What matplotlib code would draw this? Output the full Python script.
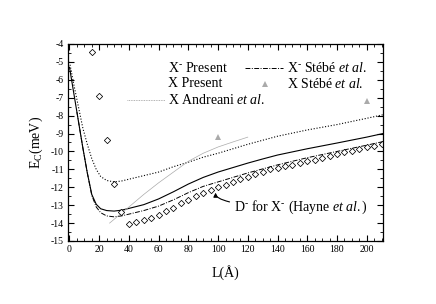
import matplotlib
matplotlib.use("Agg")
import matplotlib.pyplot as plt
from matplotlib.ticker import MultipleLocator, FuncFormatter

plt.rcParams['font.family'] = ['Liberation Serif', 'DejaVu Serif']
plt.rcParams['mathtext.fontset'] = 'custom'
plt.rcParams['mathtext.rm'] = 'Liberation Serif'
plt.rcParams['mathtext.it'] = 'Liberation Serif:italic'
plt.rcParams['mathtext.bf'] = 'Liberation Serif:bold'

# X- Present (solid)
L_xm = [0, 3, 6, 9, 12, 15, 18, 21, 25, 30, 35, 40, 50, 60, 70, 80, 90, 100, 110, 120, 130, 140, 160, 180, 200, 211]
E_xm = [-5.3, -6.8, -8.3, -9.8, -11.2, -12.4, -12.95, -13.2, -13.3, -13.33, -13.28, -13.18, -12.97, -12.65, -12.25, -11.82,
        -11.45, -11.15, -10.9, -10.65, -10.42, -10.2, -9.85, -9.53, -9.2, -9.0]

# X Present (dotted)
L_x = [0, 3, 6, 9, 12, 15, 18, 21, 25, 30, 35, 40, 50, 60, 70, 80, 90, 100, 120, 140, 160, 180, 200, 211]
E_x = [-5.0, -6.3, -7.5, -8.7, -9.6, -10.4, -11.0, -11.4, -11.62, -11.7, -11.65, -11.55, -11.35, -11.15, -10.85, -10.6,
       -10.32, -10.1, -9.6, -9.15, -8.8, -8.5, -8.15, -7.95]

# X- Stebe et al. (dash-dot)
L_st = [5, 9, 12, 15, 18, 21, 25, 30, 35, 40, 50, 60, 70, 80, 90, 100, 120, 140, 160, 180, 200, 211]
E_st = [-7.8, -9.8, -11.2, -12.45, -13.1, -13.42, -13.6, -13.65, -13.6, -13.5, -13.3, -13.05, -12.7, -12.3, -11.95,
        -11.7, -11.2, -10.75, -10.35, -10.0, -9.65, -9.45]

# X Andreani et al. (thin gray)
L_an = [27, 40, 50, 60, 70, 80, 90, 100, 110, 120]
E_an = [-14.0, -13.1, -12.4, -11.75, -11.15, -10.55, -10.1, -9.75, -9.47, -9.2]

# X Stebe et al. (triangles)
L_tri = [100, 200]
E_tri = [-9.2, -7.2]

# D- for X- (Hayne et al.) diamonds
L_d = list(range(15, 211, 5))
E_d = [-4.45, -6.9, -9.36, -11.84, -13.37, -14.07, -13.96, -13.85, -13.7, -13.55, -13.35, -13.15, -12.9, -12.7,
       -12.5, -12.3, -12.15, -12.0, -11.85, -11.7, -11.55, -11.4, -11.25, -11.12, -11.0, -10.9, -10.8, -10.75,
       -10.65, -10.55, -10.45, -10.35, -10.25, -10.15, -10.05, -9.95, -9.85, -9.77, -9.68, -9.6]

xticks = [0, 20, 40, 60, 80, 100, 120, 140, 160, 180, 200]
yticks = [-4, -5, -6, -7, -8, -9, -10, -11, -12, -13, -14, -15]

fig = plt.figure(figsize=(4.36, 3.04), dpi=100)
ax = fig.add_axes([68/436, 1-241/304, 315/436, 197/304])

ax.plot(L_xm, E_xm, color='black', lw=0.8)
ax.plot(L_x, E_x, color='black', lw=0.8, linestyle=(0, (1, 1.6)))
ax.plot(L_st, E_st, color='black', lw=0.7, linestyle=(0, (5, 1.5, 1, 1.5)))
ax.plot(L_an, E_an, color='#aaaaaa', lw=0.5)
ax.plot(L_tri, E_tri, linestyle='none', marker='^', color='#aaaaaa', markersize=5, markeredgewidth=0)
ax.plot(L_d, E_d, linestyle='none', marker='D', markersize=3.2, markerfacecolor='white',
        markeredgecolor='black', markeredgewidth=0.55)

ax.set_xlim(-1, 211)
ax.set_ylim(-15, -4)
ax.set_xticks(xticks)
ax.set_yticks(yticks)
ax.xaxis.set_minor_locator(MultipleLocator(5))
ax.yaxis.set_minor_locator(MultipleLocator(0.5))
ax.yaxis.set_major_formatter(FuncFormatter(lambda v, p: '%d' % round(v)))
ax.tick_params(which='both', direction='in', top=True, right=True, labelsize=7, pad=3)
ax.tick_params(which='major', length=4, width=0.8)
ax.tick_params(which='minor', length=2, width=0.6)
for s in ax.spines.values():
    s.set_linewidth(0.9)

ax.set_xlabel('L(Å)', fontsize=10, labelpad=8)
ax.set_ylabel(r'E$_\mathrm{C}$(meV)', fontsize=10, labelpad=4)

SUP = r'$^{\text{-}}$'

# Legend (manual)
fs = 10
T = ax.transAxes
ax.text(0.317, 0.876, 'X' + SUP + ' Present', transform=T, fontsize=fs, va='center', ha='left')
ax.text(0.317, 0.797, 'X Present', transform=T, fontsize=fs, va='center', ha='left')
ax.text(0.317, 0.716, r'X Andreani $\mathit{et\ al.}$', transform=T, fontsize=fs, va='center', ha='left')
ax.plot([0.187, 0.308], [0.716, 0.716], transform=T, color='#999999', lw=0.6, linestyle=(0, (1, 1)))
ax.text(0.695, 0.876, 'X' + SUP + r' Stébé $\mathit{et\ al.}$', transform=T, fontsize=fs, va='center', ha='left')
ax.plot([0.562, 0.683], [0.876, 0.876], transform=T, color='black', lw=0.7, linestyle=(0, (5, 1.5, 1, 1.5)))
ax.text(0.695, 0.797, r'X Stébé $\mathit{et\ al.}$', transform=T, fontsize=fs, va='center', ha='left')
ax.plot([0.625], [0.797], transform=T, marker='^', color='#aaaaaa', markersize=5, markeredgewidth=0)

ax.annotate('D' + SUP + ' for X' + SUP + r' (Hayne $\mathit{et\ al.}$)', xy=(98.3, -12.3), xytext=(110.5, -13.1),
            fontsize=fs, va='center', ha='left',
            arrowprops=dict(arrowstyle='-|>', color='black', lw=0.8, mutation_scale=6,
                            connectionstyle='angle3,angleA=180,angleB=90', shrinkA=1, shrinkB=0))

fig.savefig('out.png', dpi=100)
